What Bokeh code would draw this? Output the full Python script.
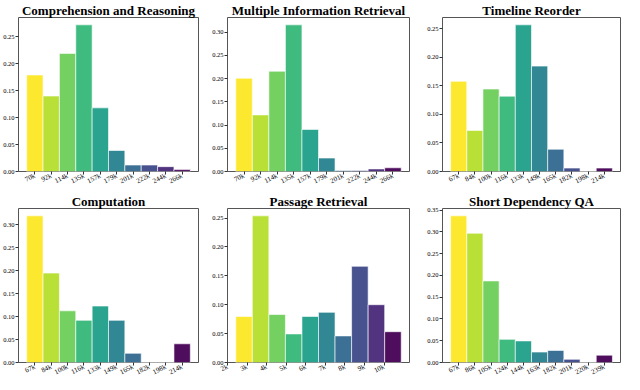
import math
from bokeh.plotting import figure
from bokeh.layouts import gridplot
from bokeh.models import FixedTicker, Range1d, PrintfTickFormatter
from bokeh.embed import file_html
from bokeh.resources import INLINE

titles = ["Comprehension and Reasoning", "Multiple Information Retrieval", "Timeline Reorder",
          "Computation", "Passage Retrieval", "Short Dependency QA"]

labels_cr = ["70k", "92k", "114k", "135k", "157k", "179k", "201k", "222k", "244k", "266k"]
values_cr = [0.179, 0.140, 0.219, 0.272, 0.118, 0.039, 0.012, 0.012, 0.009, 0.0035]

labels_mir = ["70k", "92k", "114k", "135k", "157k", "179k", "201k", "222k", "244k", "266k"]
values_mir = [0.201, 0.122, 0.216, 0.316, 0.0906, 0.029, 0.002, 0.002, 0.0055, 0.008]

labels_tr = ["67k", "84k", "100k", "116k", "133k", "149k", "165k", "182k", "198k", "214k"]
values_tr = [0.158, 0.072, 0.1445, 0.132, 0.257, 0.1847, 0.039, 0.006, 0.0, 0.006]

labels_comp = ["67k", "84k", "100k", "116k", "133k", "149k", "165k", "182k", "198k", "214k"]
values_comp = [0.319, 0.1945, 0.1124, 0.0917, 0.1228, 0.0917, 0.020, 0.0, 0.0, 0.0407]

labels_pr = ["2k", "3k", "4k", "5k", "6k", "7k", "8k", "9k", "10k"]
values_pr = [0.0797, 0.2538, 0.083, 0.0495, 0.0797, 0.0868, 0.046, 0.1665, 0.100, 0.0533]

labels_sdqa = ["67k", "86k", "105k", "124k", "144k", "163k", "182k", "201k", "220k", "239k"]
values_sdqa = [0.337, 0.297, 0.1874, 0.0532, 0.0496, 0.024, 0.0277, 0.0073, 0.0, 0.0168]

all_labels = [labels_cr, labels_mir, labels_tr, labels_comp, labels_pr, labels_sdqa]
all_values = [values_cr, values_mir, values_tr, values_comp, values_pr, values_sdqa]

colors = ['#FDE725', '#B4DE2C', '#6DCD59', '#35B779', '#1F9E89',
          '#26828E', '#31688E', '#3E4989', '#482878', '#440154']

frame_w = [180, 182, 178]
left_b = [18, 19, 26]
right_b = [10, 7, 4]
frame_h = 154
top_b = 16
bottom_b = 17

FONT = "Liberation Serif"

figs = []
for idx in range(6):
    r, c = divmod(idx, 3)
    vals = all_values[idx]
    labs = all_labels[idx]
    ymax = max(vals) * 1.05
    p = figure(width=left_b[c] + frame_w[c] + right_b[c], height=top_b + frame_h + bottom_b,
               frame_width=frame_w[c], frame_height=frame_h,
               output_backend="svg", toolbar_location=None,
               x_range=Range1d(-1, 10), y_range=Range1d(0, ymax),
               min_border_left=left_b[c], min_border_right=right_b[c],
               min_border_top=top_b, min_border_bottom=bottom_b)
    xs = list(range(len(vals)))
    p.vbar(x=xs, top=vals, width=1.0, fill_color=colors[:len(vals)], fill_alpha=0.95,
           line_color="white", line_alpha=0.6, line_width=1)
    p.title.text = titles[idx]
    p.title.text_font = FONT
    p.title.text_font_size = "13px"
    p.title.text_font_style = "bold"
    p.title.text_color = "black"
    p.title.align = "center"
    p.title.standoff = 0
    p.title.offset = 0
    if idx == 4:
        step = 20.0 / (186.0 / 11.0)
        ticks = [-1 + k * step for k in range(len(labs))]
    else:
        ticks = xs
    p.xaxis.ticker = FixedTicker(ticks=ticks)
    p.xaxis.major_label_overrides = {t: l for t, l in zip(ticks, labs)}
    p.xaxis.major_label_orientation = 0.45
    p.yaxis.ticker = FixedTicker(ticks=[k * 0.05 for k in range(8)])
    p.yaxis.formatter = PrintfTickFormatter(format="%.2f")
    for ax in (p.xaxis, p.yaxis):
        ax.major_label_text_font = FONT
        ax.major_label_text_color = "black"
        ax.axis_line_color = None
        ax.major_tick_out = 3
        ax.major_tick_in = 0
        ax.minor_tick_line_color = None
        ax.major_tick_line_color = "#333333"
        ax.major_label_standoff = 1
    p.xaxis.major_label_text_font_size = "7px"
    p.yaxis.major_label_text_font_size = "6.5px"
    p.xgrid.grid_line_color = None
    p.ygrid.grid_line_color = None
    p.outline_line_color = "#555555"
    p.outline_line_width = 1
    p.outline_line_alpha = 1
    figs.append(p)

grid = gridplot([figs[0:3], figs[3:6]], toolbar_location=None)

open("out.html", "w").write(file_html(grid, INLINE))
